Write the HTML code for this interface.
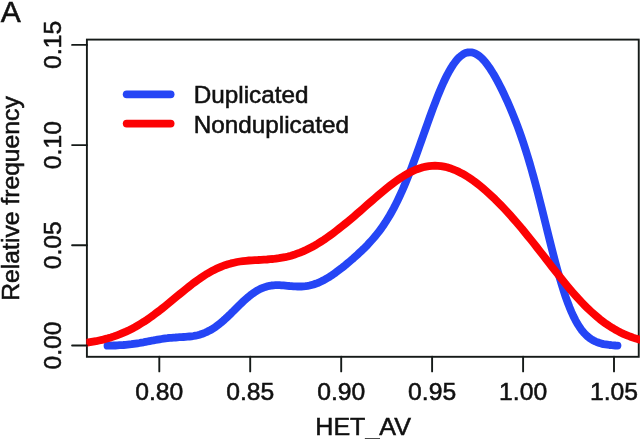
<!DOCTYPE html>
<html><head><meta charset="utf-8"><style>
html,body{margin:0;padding:0;background:#fff;}
svg{display:block;will-change:transform}
text{font-family:"Liberation Sans",sans-serif;fill:#111;stroke:#111;stroke-width:0.55px;}
</style></head><body>
<svg width="640" height="439" viewBox="0 0 640 439">
<rect width="640" height="439" fill="#fff"/>
<defs><clipPath id="c"><rect x="86.3" y="39.6" width="554" height="317.2"/></clipPath></defs>
<rect x="86.9" y="39.6" width="551.85" height="317.2" fill="none" stroke="#151a18" stroke-width="1.9"/>
<g clip-path="url(#c)" fill="none" stroke-width="7.8" stroke-linecap="round" stroke-linejoin="round">
<path d="M107.5 345.7 L109.5 345.7 L111.5 345.6 L113.5 345.5 L115.5 345.5 L117.5 345.4 L119.5 345.2 L121.5 345.1 L123.5 345.0 L125.5 344.8 L127.5 344.6 L129.5 344.4 L131.5 344.2 L133.5 343.9 L135.5 343.6 L137.5 343.3 L139.5 343.0 L141.5 342.6 L143.5 342.3 L145.5 341.9 L147.5 341.5 L149.5 341.1 L151.5 340.7 L153.5 340.4 L155.5 340.0 L157.5 339.6 L159.5 339.3 L161.5 339.0 L163.5 338.7 L165.5 338.4 L167.5 338.2 L169.5 337.9 L171.5 337.8 L173.5 337.6 L175.5 337.5 L177.5 337.3 L179.5 337.2 L181.5 337.1 L183.5 337.0 L185.5 336.9 L187.5 336.7 L189.5 336.5 L191.5 336.3 L193.5 336.0 L195.5 335.6 L197.5 335.2 L199.5 334.7 L201.5 334.1 L203.5 333.3 L205.5 332.5 L207.5 331.6 L209.5 330.6 L211.5 329.5 L213.5 328.2 L215.5 326.9 L217.5 325.4 L219.5 323.9 L221.5 322.2 L223.5 320.5 L225.5 318.7 L227.5 316.8 L229.5 314.9 L231.5 312.9 L233.5 311.0 L235.5 309.0 L237.5 307.0 L239.5 305.0 L241.5 303.1 L243.5 301.2 L245.5 299.4 L247.5 297.6 L249.5 296.0 L251.5 294.4 L253.5 293.0 L255.5 291.6 L257.5 290.4 L259.5 289.3 L261.5 288.4 L263.5 287.6 L265.5 286.9 L267.5 286.3 L269.5 285.9 L271.5 285.5 L273.5 285.3 L275.5 285.2 L277.5 285.1 L279.5 285.2 L281.5 285.3 L283.5 285.4 L285.5 285.6 L287.5 285.8 L289.5 286.0 L291.5 286.1 L293.5 286.3 L295.5 286.4 L297.5 286.5 L299.5 286.5 L301.5 286.5 L303.5 286.4 L305.5 286.2 L307.5 285.9 L309.5 285.5 L311.5 285.0 L313.5 284.5 L315.5 283.8 L317.5 283.1 L319.5 282.2 L321.5 281.3 L323.5 280.3 L325.5 279.2 L327.5 278.0 L329.5 276.8 L331.5 275.5 L333.5 274.1 L335.5 272.7 L337.5 271.2 L339.5 269.7 L341.5 268.2 L343.5 266.6 L345.5 265.0 L347.5 263.3 L349.5 261.6 L351.5 259.9 L353.5 258.2 L355.5 256.4 L357.5 254.6 L359.5 252.7 L361.5 250.8 L363.5 248.9 L365.5 246.9 L367.5 244.9 L369.5 242.7 L371.5 240.5 L373.5 238.2 L375.5 235.9 L377.5 233.4 L379.5 230.8 L381.5 228.1 L383.5 225.2 L385.5 222.2 L387.5 219.0 L389.5 215.7 L391.5 212.2 L393.5 208.6 L395.5 204.7 L397.5 200.7 L399.5 196.5 L401.5 192.2 L403.5 187.6 L405.5 182.9 L407.5 178.0 L409.5 173.0 L411.5 167.8 L413.5 162.5 L415.5 157.1 L417.5 151.6 L419.5 146.0 L421.5 140.4 L423.5 134.8 L425.5 129.1 L427.5 123.5 L429.5 117.9 L431.5 112.4 L433.5 107.0 L435.5 101.8 L437.5 96.7 L439.5 91.7 L441.5 87.0 L443.5 82.5 L445.5 78.3 L447.5 74.3 L449.5 70.7 L451.5 67.3 L453.5 64.2 L455.5 61.5 L457.5 59.1 L459.5 57.1 L461.5 55.4 L463.5 54.1 L465.5 53.1 L467.5 52.5 L469.5 52.3 L471.5 52.4 L473.5 52.8 L475.5 53.6 L477.5 54.8 L479.5 56.2 L481.5 57.9 L483.5 60.0 L485.5 62.3 L487.5 64.9 L489.5 67.7 L491.5 70.8 L493.5 74.0 L495.5 77.5 L497.5 81.1 L499.5 85.0 L501.5 88.9 L503.5 93.0 L505.5 97.3 L507.5 101.7 L509.5 106.3 L511.5 111.0 L513.5 115.9 L515.5 121.0 L517.5 126.2 L519.5 131.7 L521.5 137.4 L523.5 143.3 L525.5 149.5 L527.5 155.9 L529.5 162.5 L531.5 169.5 L533.5 176.6 L535.5 184.0 L537.5 191.6 L539.5 199.4 L541.5 207.3 L543.5 215.3 L545.5 223.4 L547.5 231.5 L549.5 239.5 L551.5 247.5 L553.5 255.3 L555.5 262.9 L557.5 270.2 L559.5 277.3 L561.5 284.0 L563.5 290.4 L565.5 296.4 L567.5 302.0 L569.5 307.2 L571.5 312.0 L573.5 316.4 L575.5 320.3 L577.5 323.9 L579.5 327.0 L581.5 329.9 L583.5 332.3 L585.5 334.5 L587.5 336.4 L589.5 338.0 L591.5 339.4 L593.5 340.5 L595.5 341.5 L597.5 342.3 L599.5 343.0 L601.5 343.6 L603.5 344.1 L605.5 344.4 L607.5 344.7 L609.5 345.0 L611.5 345.2 L613.5 345.3 L615.5 345.5 L617.5 345.6" stroke="#2545f5"/>
<path d="M81.0 343.4 L84.0 343.1 L87.0 342.7 L90.0 342.2 L93.0 341.7 L96.0 341.2 L99.0 340.5 L102.0 339.9 L105.0 339.1 L108.0 338.3 L111.0 337.4 L114.0 336.4 L117.0 335.3 L120.0 334.2 L123.0 332.9 L126.0 331.6 L129.0 330.2 L132.0 328.7 L135.0 327.1 L138.0 325.3 L141.0 323.5 L144.0 321.7 L147.0 319.7 L150.0 317.6 L153.0 315.5 L156.0 313.2 L159.0 311.0 L162.0 308.6 L165.0 306.2 L168.0 303.8 L171.0 301.3 L174.0 298.8 L177.0 296.3 L180.0 293.9 L183.0 291.4 L186.0 289.0 L189.0 286.6 L192.0 284.2 L195.0 282.0 L198.0 279.8 L201.0 277.7 L204.0 275.7 L207.0 273.8 L210.0 272.1 L213.0 270.4 L216.0 268.9 L219.0 267.6 L222.0 266.3 L225.0 265.2 L228.0 264.2 L231.0 263.4 L234.0 262.7 L237.0 262.0 L240.0 261.5 L243.0 261.1 L246.0 260.8 L249.0 260.5 L252.0 260.3 L255.0 260.1 L258.0 260.0 L261.0 259.8 L264.0 259.6 L267.0 259.5 L270.0 259.2 L273.0 259.0 L276.0 258.6 L279.0 258.2 L282.0 257.7 L285.0 257.2 L288.0 256.5 L291.0 255.7 L294.0 254.8 L297.0 253.7 L300.0 252.6 L303.0 251.4 L306.0 250.0 L309.0 248.5 L312.0 247.0 L315.0 245.3 L318.0 243.5 L321.0 241.6 L324.0 239.7 L327.0 237.6 L330.0 235.5 L333.0 233.3 L336.0 231.0 L339.0 228.7 L342.0 226.3 L345.0 223.9 L348.0 221.4 L351.0 218.9 L354.0 216.4 L357.0 213.8 L360.0 211.2 L363.0 208.6 L366.0 205.9 L369.0 203.3 L372.0 200.7 L375.0 198.1 L378.0 195.5 L381.0 193.0 L384.0 190.5 L387.0 188.0 L390.0 185.6 L393.0 183.3 L396.0 181.1 L399.0 179.0 L402.0 177.0 L405.0 175.2 L408.0 173.5 L411.0 171.9 L414.0 170.5 L417.0 169.2 L420.0 168.2 L423.0 167.3 L426.0 166.6 L429.0 166.1 L432.0 165.8 L435.0 165.7 L438.0 165.8 L441.0 166.1 L444.0 166.6 L447.0 167.3 L450.0 168.2 L453.0 169.3 L456.0 170.5 L459.0 171.9 L462.0 173.4 L465.0 175.2 L468.0 177.0 L471.0 179.0 L474.0 181.1 L477.0 183.4 L480.0 185.8 L483.0 188.3 L486.0 190.9 L489.0 193.6 L492.0 196.4 L495.0 199.2 L498.0 202.2 L501.0 205.3 L504.0 208.4 L507.0 211.6 L510.0 214.9 L513.0 218.3 L516.0 221.8 L519.0 225.3 L522.0 228.8 L525.0 232.5 L528.0 236.2 L531.0 239.9 L534.0 243.7 L537.0 247.5 L540.0 251.3 L543.0 255.2 L546.0 259.0 L549.0 262.9 L552.0 266.8 L555.0 270.6 L558.0 274.4 L561.0 278.2 L564.0 281.9 L567.0 285.6 L570.0 289.2 L573.0 292.7 L576.0 296.1 L579.0 299.4 L582.0 302.6 L585.0 305.7 L588.0 308.7 L591.0 311.5 L594.0 314.2 L597.0 316.8 L600.0 319.3 L603.0 321.6 L606.0 323.8 L609.0 325.8 L612.0 327.7 L615.0 329.5 L618.0 331.1 L621.0 332.7 L624.0 334.1 L627.0 335.3 L630.0 336.5 L633.0 337.6 L636.0 338.6 L639.0 339.4 L642.0 340.2 L645.0 340.9" stroke="#fc0204"/>
</g>
<g stroke="#151a18" stroke-width="1.9" stroke-linecap="round">
<line x1="159.3" y1="356.8" x2="159.3" y2="371.4"/>
<line x1="250.2" y1="356.8" x2="250.2" y2="371.4"/>
<line x1="341.2" y1="356.8" x2="341.2" y2="371.4"/>
<line x1="432.1" y1="356.8" x2="432.1" y2="371.4"/>
<line x1="523.1" y1="356.8" x2="523.1" y2="371.4"/>
<line x1="614.0" y1="356.8" x2="614.0" y2="371.4"/>
<line x1="72.1" y1="345.50" x2="86.9" y2="345.50"/>
<line x1="72.1" y1="245.30" x2="86.9" y2="245.30"/>
<line x1="72.1" y1="145.10" x2="86.9" y2="145.10"/>
<line x1="72.1" y1="44.90" x2="86.9" y2="44.90"/>
</g>
<g font-size="24.7" text-anchor="middle">
<text x="159.3" y="400">0.80</text>
<text x="250.2" y="400">0.85</text>
<text x="341.2" y="400">0.90</text>
<text x="432.1" y="400">0.95</text>
<text x="523.1" y="400">1.00</text>
<text x="614.0" y="400">1.05</text>
<text transform="translate(60.5 345.50) rotate(-90)">0.00</text>
<text transform="translate(60.5 245.30) rotate(-90)">0.05</text>
<text transform="translate(60.5 145.10) rotate(-90)">0.10</text>
<text transform="translate(60.5 44.90) rotate(-90)">0.15</text>
<text transform="translate(363.1 435) scale(1.015 1)">HET_AV</text>
<text transform="translate(18.6 198.5) rotate(-90)">Relative frequency</text>
</g>
<text x="0.7" y="22" font-size="30">A</text>
<g font-size="24.7"><text transform="translate(193.8 103.2) scale(0.983 1)">Duplicated</text><text transform="translate(193.8 132.5) scale(0.983 1)">Nonduplicated</text></g>
<g stroke-width="7.8" stroke-linecap="round"><line x1="126.7" y1="94.3" x2="170.6" y2="94.3" stroke="#2545f5"/><line x1="126.7" y1="123.6" x2="170.6" y2="123.6" stroke="#fc0204"/></g>
</svg></body></html>
